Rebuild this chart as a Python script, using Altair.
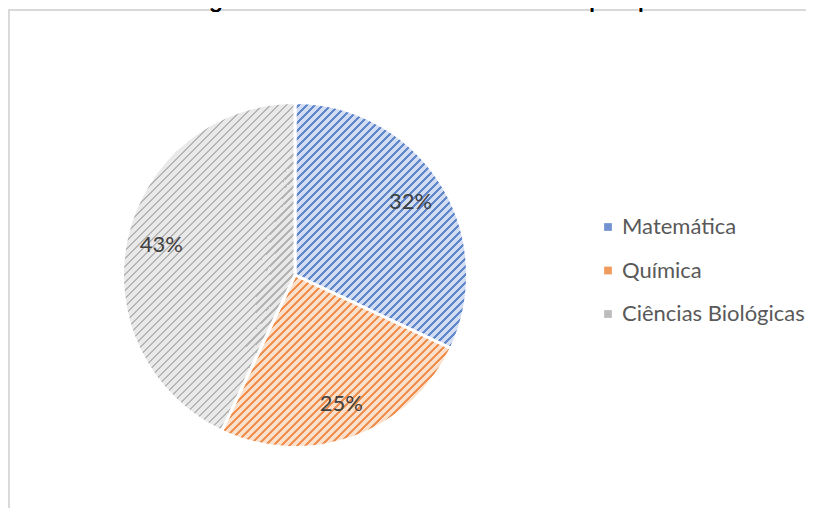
import math
import altair as alt
import pandas as pd

# ---- data ----
categories = ["Matemática", "Química", "Ciências Biológicas"]
values = [32, 25, 43]
labels = ["32%", "25%", "43%"]
title_text = "Figura 11 - Diferentes Licenciaturas pesquisadas"

# ---- style ----
line_colors = ["#6087CC", "#F09050", "#B4B4B4"]
bg_colors = ["#D2DDF2", "#FBE0CC", "#E9E9E9"]
legend_colors = ["#7092D0", "#F09A5E", "#BDBDBD"]

W, H = 798, 500
CX, CY = 287, 267
R = 172.5
PITCH = 8.0      # horizontal distance between hatch lines (px)
LINE_FRAC = 0.33

df = pd.DataFrame({"categoria": categories, "valor": values,
                   "rotulo": labels, "ordem": list(range(len(values)))})
total = float(sum(values))


def slice_bbox(a0, a1):
    pts = [(0.0, 0.0), (math.sin(a0), -math.cos(a0)), (math.sin(a1), -math.cos(a1))]
    for k in range(5):
        a = k * math.pi / 2
        if a0 <= a <= a1:
            pts.append((math.sin(a), -math.cos(a)))
    xs = [p[0] for p in pts]
    ys = [p[1] for p in pts]
    return (max(xs) - min(xs)) * R, (max(ys) - min(ys)) * R


def hatch(w, h, bg, fg):
    k = (w + h) / (w * w + h * h)
    n = (w + h) / PITCH
    stops = []
    i = 0
    while i / n < 1:
        t0 = i / n
        t1 = min(1.0, (i + 1 - LINE_FRAC) / n)
        t2 = min(1.0, (i + 1) / n)
        stops += [alt.GradientStop(offset=t0, color=bg),
                  alt.GradientStop(offset=t1, color=bg),
                  alt.GradientStop(offset=t1, color=fg),
                  alt.GradientStop(offset=t2, color=fg)]
        i += 1
    return alt.LinearGradient(gradient="linear", x1=0, y1=0,
                              x2=w * k, y2=h * k, stops=stops)


theta_scale = alt.Scale(domain=[0, total], range=[0, 2 * math.pi])
color_scale = alt.Scale(domain=categories, range=legend_colors)

base = alt.Chart(df).transform_window(
    fim="sum(valor)", sort=[alt.SortField("ordem")], frame=[None, 0]
).transform_calculate(
    inicio="datum.fim - datum.valor",
    meio="datum.fim - datum.valor / 2",
)

under = base.mark_arc(radius=R, stroke="white", strokeWidth=3).encode(
    x=alt.value(CX), y=alt.value(CY),
    theta=alt.Theta("inicio:Q", scale=theta_scale),
    theta2="fim:Q",
    color=alt.Color("categoria:N", scale=color_scale, legend=None),
)

# frame: only its left and top edges fall inside the drawing area
frame = alt.Chart(df).mark_rect(fill="transparent", stroke="#D9D9D9", strokeWidth=1.6).encode(
    x=alt.value(0.8), y=alt.value(1.9), x2=alt.value(W + 60), y2=alt.value(H + 60))

layers = [frame, under]
acc = 0.0
for cat, v, bg, fg in zip(categories, values, bg_colors, line_colors):
    a0 = acc / total * 2 * math.pi
    acc += v
    a1 = acc / total * 2 * math.pi
    w, h = slice_bbox(a0, a1)
    layers.append(
        base.transform_filter(alt.datum.categoria == cat)
        .mark_arc(radius=R, stroke="white", strokeWidth=3, fill=hatch(w, h, bg, fg))
        .encode(x=alt.value(CX), y=alt.value(CY),
                theta=alt.Theta("inicio:Q", scale=theta_scale), theta2="fim:Q")
    )

pct = base.mark_text(font="Lato", fontSize=22, color="#404040").encode(
    x=alt.value(CX), y=alt.value(CY),
    theta=alt.Theta("meio:Q", scale=theta_scale),
    radius=alt.value(137),
    text="rotulo:N",
)
layers.append(pct)

leg_y = alt.Y("categoria:N", sort=categories,
              scale=alt.Scale(type="point", domain=categories, range=[219, 306], padding=0),
              axis=None)
leg_sq = alt.Chart(df).mark_square(size=60, opacity=1).encode(
    x=alt.value(600), y=leg_y,
    color=alt.Color("categoria:N", scale=color_scale, legend=None),
)
leg_tx = alt.Chart(df).mark_text(font="Lato", fontSize=22, color="#595959",
                                 align="left", baseline="middle").encode(
    x=alt.value(614), y=leg_y, text="categoria:N",
)
layers += [leg_sq, leg_tx]

title_mark = alt.Chart(df).mark_text(font="Liberation Sans", fontSize=25, color="#000000",
                                     align="center", baseline="alphabetic").encode(
    x=alt.value(451), y=alt.value(-1), text=alt.value(title_text))
layers.append(title_mark)

chart = alt.layer(*layers).properties(
    width=W, height=H,
    autosize=alt.AutoSizeParams(type="none"),
    padding=0,
).configure_view(stroke=None)

chart.save("out.html", embed_options={"renderer": "svg", "actions": False})
